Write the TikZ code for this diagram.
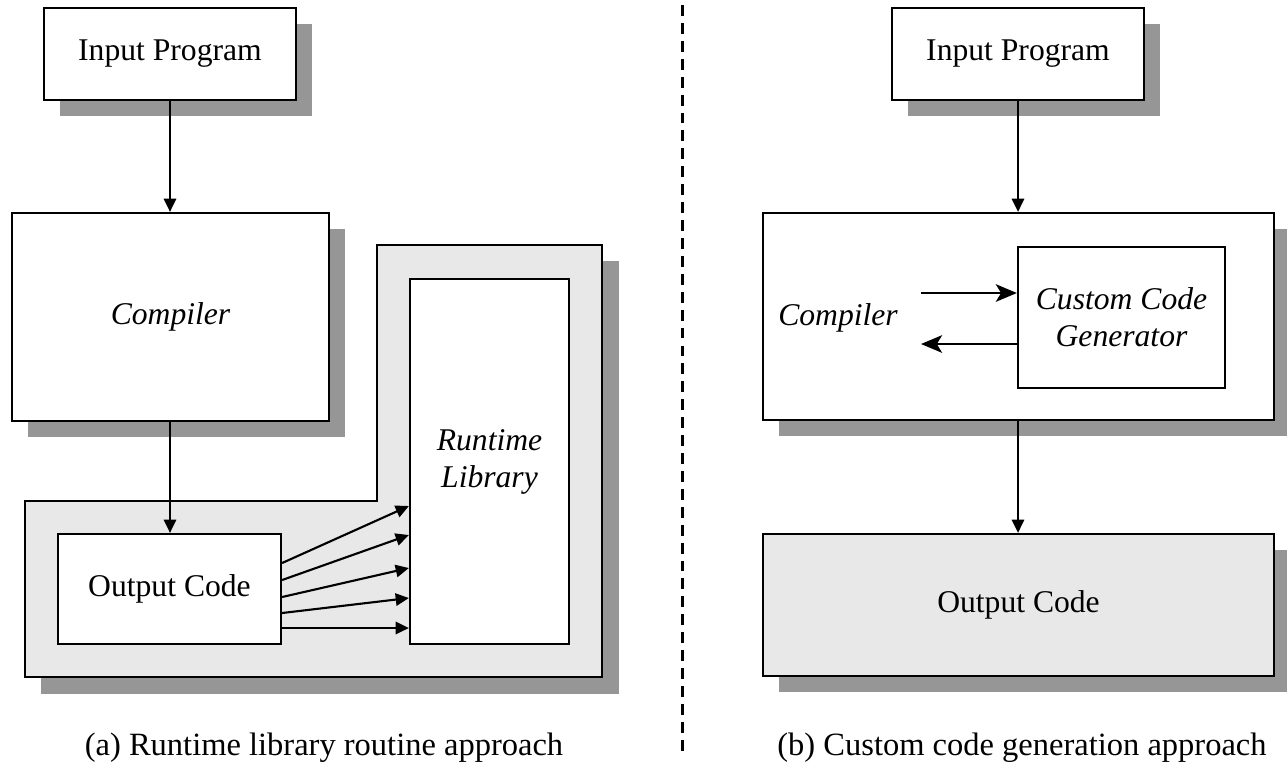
\documentclass[tikz,border=0pt]{standalone}
\usepackage{fontspec}
\setmainfont{Liberation Serif}
\usetikzlibrary{arrows.meta,shadows}

\definecolor{shadowgray}{RGB}{150,150,150}
\definecolor{panelgray}{RGB}{232,232,232}

\tikzset{
	txt/.style={font=\fontsize{18}{21}\selectfont, align=center},
	captxt/.style={font=\fontsize{18.5}{22}\selectfont},
	blk/.style={txt, draw, line width=1.3pt, fill=white, inner sep=0pt},
	sblk/.style={blk, drop shadow={shadow xshift=0.32cm, shadow yshift=-0.32cm, fill=shadowgray, opacity=1}},
	arr/.style={line width=1.2pt, -{Triangle[length=7.5pt,width=7pt]}},
	bigarr/.style={line width=1.3pt, -{Stealth[length=12pt,width=10pt,inset=3pt]}},
}

\begin{document}
\begin{tikzpicture}[x=0.02cm, y=-0.02cm]
	%\draw[help lines] (0,0) grid[step=50] (1287,769);
	\useasboundingbox (0,0) rectangle (1287,769);

	% (a) runtime library
	\filldraw[shadowgray, shift={(16,16)}] (25,501) -- (377,501) -- (377,245) -- (602,245) -- (602,677) -- (25,677) -- cycle;
	\filldraw[fill=panelgray, line width=1.3pt] (25,501) -- (377,501) -- (377,245) -- (602,245) -- (602,677) -- (25,677) -- cycle;

	\node[sblk, minimum width=5.04cm, minimum height=1.84cm] (inA) at (170,54) {Input Program};
	\node[sblk, minimum width=6.34cm, minimum height=4.16cm, font=\fontsize{18}{21}\selectfont\itshape] (compA) at (170.5,317) {Compiler};
	\node[blk, minimum width=4.46cm, minimum height=2.2cm] (outA) at (169.5,589) {Output Code};
	\node[blk, minimum width=3.18cm, minimum height=7.3cm, font=\fontsize{18}{21}\selectfont\itshape] (libA) at (489.5,461.5) {Runtime\\Library};

	\draw[arr] (inA.south) -- (inA.south |- compA.north);
	\draw[arr] (inA.south |- compA.south) -- (inA.south |- outA.north);
	\foreach \ys/\yt in {563/506, 580/535, 597/568, 613/598, 628/628}
		\draw[arr] (outA.east |- 0,\ys) -- (libA.west |- 0,\yt);

	\node[captxt] (capA) at (324,748) {(a) Runtime library routine approach};

	% separator
	\coordinate (sepTop) at (682,5);
	\coordinate (sepBot) at (682,752);
	\draw[line width=1.7pt, dash pattern=on 6.2pt off 4pt] (sepTop) -- (sepBot);

	% (b) custom code generation
	\node[sblk, minimum width=5.04cm, minimum height=1.84cm] (inB) at (1018,54) {Input Program};
	\node[sblk, minimum width=10.22cm, minimum height=4.14cm] (compB) at (1018.5,316.5) {};
	\node[txt, font=\fontsize{18}{21}\selectfont\itshape] (compTxt) at (838,318) {Compiler};
	\node[blk, minimum width=4.14cm, minimum height=2.82cm, font=\fontsize{18}{21}\selectfont\itshape] (genB) at (1121.5,317.5) {Custom Code\\Generator};
	\node[sblk, fill=panelgray, minimum width=10.22cm, minimum height=2.84cm] (outB) at (1018.5,605) {Output Code};

	\coordinate (toGen) at (921,293);
	\coordinate (fromGen) at (921,344);
	\draw[bigarr] (toGen) -- (toGen -| genB.west);
	\draw[bigarr] (fromGen -| genB.west) -- (fromGen);

	\draw[arr] (inB.south) -- (inB.south |- compB.north);
	\draw[arr] (inB.south |- compB.south) -- (inB.south |- outB.north);

	\node[captxt] (capB) at (1022,748) {(b) Custom code generation approach};
\end{tikzpicture}
\end{document}
